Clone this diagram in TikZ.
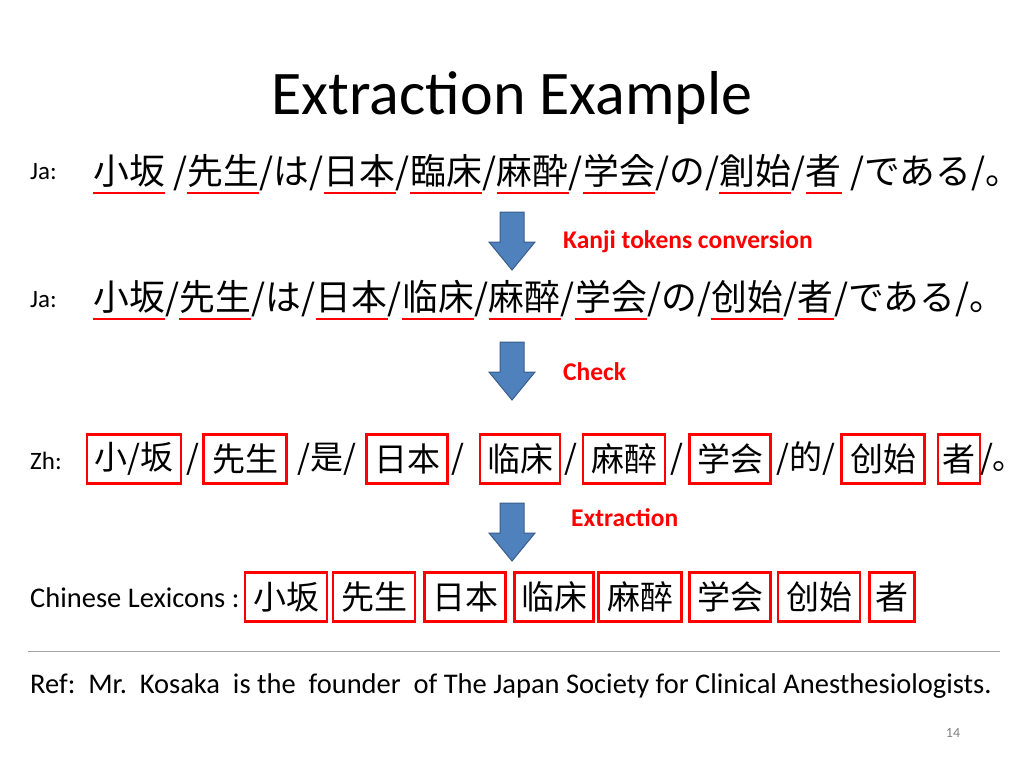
\documentclass[tikz,border=0pt]{standalone}
\usepackage{fontspec}
\setmainfont{Carlito}
\newfontfamily\jafont{Noto Sans CJK JP}
\newfontfamily\zhfont{Noto Sans CJK SC}
\usetikzlibrary{positioning}

\definecolor{arrowblue}{HTML}{4F81BD}
\definecolor{arrowedge}{HTML}{385D8A}

\begin{document}
\begin{tikzpicture}[
    x=1pt, y=-1pt,
    tok/.style={inner sep=0pt, anchor=base west, font=\jafont\fontsize{35.8}{36}\selectfont},
    zh/.style={inner sep=0pt, font=\zhfont\fontsize{33}{33}\selectfont},
    redbox/.style={draw=red, line width=2.5pt, minimum height=49pt, inner sep=0pt},
    lab/.style={anchor=west, inner sep=0pt, font=\fontsize{25}{25}\selectfont},
    steplabel/.style={anchor=west, inner sep=0pt, text=red, font=\bfseries\fontsize{25.5}{25.5}\selectfont},
    uline/.style={red, line width=2.5pt}
]
\useasboundingbox (0,0) rectangle (1024,768);

% title
\node (title) at (512,98) {\fontsize{62}{62}\selectfont Extraction Example};

% row 1, Japanese
\node (ja1) [lab] at (30,172) {Ja:};
\coordinate (r1) at (93,184);
\node (a1) [tok] at (r1) {小坂};
\node (a2) [tok, right=0pt of a1.base east, anchor=base west] {\ /};
\node (a3) [tok, right=0pt of a2.base east, anchor=base west] {先生};
\node (a4) [tok, right=0pt of a3.base east, anchor=base west] {/は/};
\node (a5) [tok, right=0pt of a4.base east, anchor=base west] {日本};
\node (a6) [tok, right=0pt of a5.base east, anchor=base west] {/};
\node (a7) [tok, right=0pt of a6.base east, anchor=base west] {臨床};
\node (a8) [tok, right=0pt of a7.base east, anchor=base west] {/};
\node (a9) [tok, right=0pt of a8.base east, anchor=base west] {麻酔};
\node (a10) [tok, right=0pt of a9.base east, anchor=base west] {/};
\node (a11) [tok, right=0pt of a10.base east, anchor=base west] {学会};
\node (a12) [tok, right=0pt of a11.base east, anchor=base west] {/の/\ };
\node (a13) [tok, right=0pt of a12.base east, anchor=base west] {創始};
\node (a14) [tok, right=0pt of a13.base east, anchor=base west] {/};
\node (a15) [tok, right=0pt of a14.base east, anchor=base west] {者};
\node (a16) [tok, right=0pt of a15.base east, anchor=base west] {\ /である/。};
\foreach \n in {a1,a3,a5,a7,a9,a11,a13,a15}
  \draw [uline] ([yshift=-9pt]\n.base west) -- ([yshift=-9pt]\n.base east);

% row 2, Japanese after conversion
\node (ja2) [lab] at (30,300) {Ja:};
\coordinate (r2) at (93,310);
\node (b1) [tok] at (r2) {小坂};
\node (b2) [tok, right=0pt of b1.base east, anchor=base west] {/};
\node (b3) [tok, right=0pt of b2.base east, anchor=base west] {先生};
\node (b4) [tok, right=0pt of b3.base east, anchor=base west] {/は/};
\node (b5) [tok, right=0pt of b4.base east, anchor=base west] {日本};
\node (b6) [tok, right=0pt of b5.base east, anchor=base west] {/};
\node (b7) [tok, right=0pt of b6.base east, anchor=base west] {\zhfont 临床};
\node (b8) [tok, right=0pt of b7.base east, anchor=base west] {/};
\node (b9) [tok, right=0pt of b8.base east, anchor=base west] {麻醉};
\node (b10) [tok, right=0pt of b9.base east, anchor=base west] {/};
\node (b11) [tok, right=0pt of b10.base east, anchor=base west] {学会};
\node (b12) [tok, right=0pt of b11.base east, anchor=base west] {/の/\ };
\node (b13) [tok, right=0pt of b12.base east, anchor=base west] {\zhfont 创始};
\node (b14) [tok, right=0pt of b13.base east, anchor=base west] {/};
\node (b15) [tok, right=0pt of b14.base east, anchor=base west] {者};
\node (b16) [tok, right=0pt of b15.base east, anchor=base west] {/である/。};
\foreach \n in {b1,b3,b5,b7,b9,b11,b13,b15}
  \draw [uline] ([yshift=-9pt]\n.base west) -- ([yshift=-9pt]\n.base east);

% row 3, Chinese
\node (zhl) [lab] at (30,461) {Zh:};
\node (c1) [zh, redbox, minimum width=94pt] at (134,459) {小/坂};
\node (c2) [zh] at (193,459) {/};
\node (c3) [zh, redbox, minimum width=83pt] at (245,459) {先生};
\node (c4) [zh] at (327,459) {/是/};
\node (c5) [zh, redbox, minimum width=81pt] at (407,459) {日本};
\node (c6) [zh] at (458,459) {/};
\node (c7) [zh, redbox, minimum width=80pt] at (520,459) {临床};
\node (c8) [zh] at (571,459) {/};
\node (c9) [zh, redbox, minimum width=82pt] at (624,459) {麻醉};
\node (c10) [zh] at (677,459) {/};
\node (c11) [zh, redbox, minimum width=81pt] at (730,459) {学会};
\node (c12) [zh] at (806,459) {/的/};
\node (c13) [zh, redbox, minimum width=83pt] at (883,459) {创始};
\node (c14) [zh, redbox, minimum width=42pt] at (959,459) {者};
\node (c15) [zh] at (1003,459) {/。};

% row 4, lexicons
\node (lex) [lab, font=\fontsize{28.5}{28.5}\selectfont] at (30,598) {Chinese Lexicons :};
\foreach \name/\x/\w/\t in {l1/286/82/小坂, l2/374/82/先生, l3/465/81/日本, l4/554/79/临床,
    l5/640/83/麻醉, l6/730/81/学会, l7/819/82/创始, l8/892/45/者}
  \node (\name) [zh, redbox, minimum width=\w pt] at (\x,597) {\t};

% block arrows
\foreach \top/\name in {212/k1, 342/k2, 503/k3}
  \filldraw [fill=arrowblue, draw=arrowedge, line width=1pt]
    (500,\top) -- (524,\top) -- (524,\top+30) -- (535,\top+30) -- (512,\top+58)
    -- (489,\top+30) -- (500,\top+30) -- cycle;
\node (s1) [steplabel] at (563,242) {Kanji tokens conversion};
\node (s2) [steplabel] at (563,372) {Check};
\node (s3) [steplabel] at (571,518) {Extraction};

% reference line
\draw [gray!70, line width=1pt] (28,651) -- (1000,651);
\node (ref) [lab, font=\fontsize{28.5}{28.5}\selectfont] at (30,686)
  {Ref:\ \ Mr.\ \ Kosaka\ \ is the\ \ founder\ \ of The Japan Society for Clinical Anesthesiologists.};
\node (page) [text=gray] at (953,733) {\fontsize{14}{14}\selectfont 14};
\end{tikzpicture}
\end{document}
